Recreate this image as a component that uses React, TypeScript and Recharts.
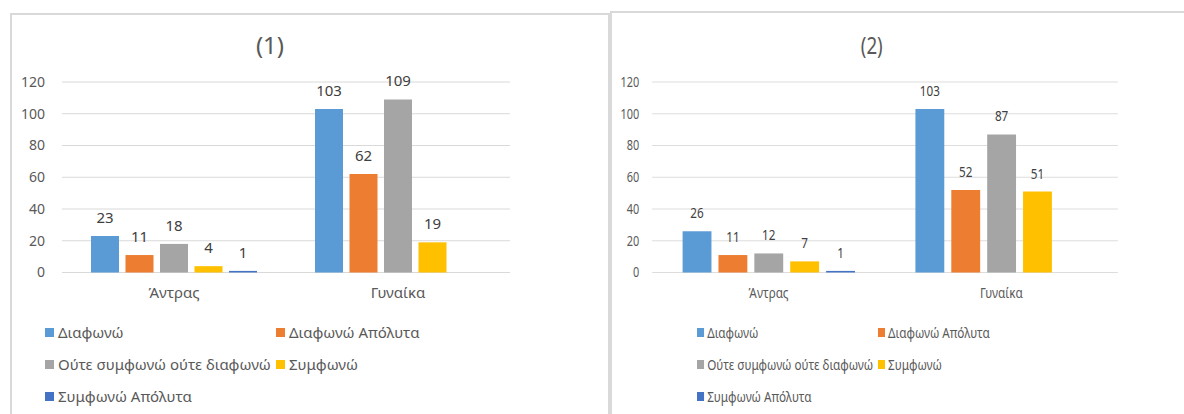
import React from 'react';
import { BarChart, Bar, XAxis, YAxis, CartesianGrid, LabelList, Legend } from 'recharts';

const categories = ['Άντρας', 'Γυναίκα'];
const seriesNames = ['Διαφωνώ', 'Διαφωνώ Απόλυτα', 'Ούτε συμφωνώ ούτε διαφωνώ', 'Συμφωνώ', 'Συμφωνώ Απόλυτα'];
const seriesColors = ['#5B9BD5', '#ED7D31', '#A5A5A5', '#FFC000', '#4472C4'];
const yTicks = [0, 20, 40, 60, 80, 100, 120];

const chart1Title = '(1)';
const chart1Disagree = [23, 103];
const chart1StronglyDisagree = [11, 62];
const chart1Neutral = [18, 109];
const chart1Agree = [4, 19];
const chart1StronglyAgree = [1, null];

const chart2Title = '(2)';
const chart2Disagree = [26, 103];
const chart2StronglyDisagree = [11, 52];
const chart2Neutral = [12, 87];
const chart2Agree = [7, 51];
const chart2StronglyAgree = [1, null];

const keys = ['s0', 's1', 's2', 's3', 's4'];

function buildRows(series: (number | null)[][]) {
  return categories.map((c, i) => {
    const row: any = { name: c };
    series.forEach((s, k) => {
      row[keys[k]] = s[i];
    });
    return row;
  });
}

const data1 = buildRows([chart1Disagree, chart1StronglyDisagree, chart1Neutral, chart1Agree, chart1StronglyAgree]);
const data2 = buildRows([chart2Disagree, chart2StronglyDisagree, chart2Neutral, chart2Agree, chart2StronglyAgree]);

const FONT = '"Noto Sans", sans-serif';

type PanelProps = {
  data: any[];
  title: string;
  titleCenter: number;
  width: number;
  height: number;
  marginRight: number;
  yAxisWidth: number;
  yTickMargin: number;
  barSize: number;
  barGap: number;
  legendLeft: number;
  legendCol: number;
};

function Panel(p: PanelProps) {
  const legendContent = (props: any) => {
    const payload = props.payload || [];
    return (
      <div
        style={{
          display: 'grid',
          gridTemplateColumns: `${p.legendCol}px auto`,
          gridAutoRows: '32px',
          fontFamily: FONT,
          fontSize: 15,
          color: '#595959',
        }}
      >
        {payload.map((e: any) => (
          <div key={e.value} style={{ display: 'flex', alignItems: 'center', whiteSpace: 'nowrap' }}>
            <span style={{ display: 'inline-block', flexShrink: 0, width: 9, height: 9, background: e.color, marginRight: 4 }} />
            <span>{e.value}</span>
          </div>
        ))}
      </div>
    );
  };
  return (
    <div style={{ position: 'relative', width: p.width, height: p.height }}>
      <BarChart
        width={p.width}
        height={p.height}
        data={p.data}
        margin={{ top: 82, right: p.marginRight, bottom: 111.5, left: 0 }}
        barGap={p.barGap}
        barSize={p.barSize}
        style={{ fontFamily: FONT }}
      >
        <CartesianGrid vertical={false} stroke="#D9D9D9" strokeWidth={1} />
        <XAxis
          dataKey="name"
          axisLine={false}
          tickLine={false}
          tickSize={6}
          tickMargin={8.5}
          height={30}
          tick={{ fill: '#595959', fontSize: 15, fontFamily: FONT }}
        />
        <YAxis
          domain={[0, 120]}
          ticks={yTicks}
          interval={0}
          axisLine={false}
          tickLine={false}
          tickSize={6}
          tickMargin={p.yTickMargin}
          width={p.yAxisWidth}
          tick={{ fill: '#595959', fontSize: 14, fontFamily: FONT }}
        />
        <Legend
          layout="horizontal"
          verticalAlign="middle"
          align="center"
          wrapperStyle={{ left: p.legendLeft, top: 316, width: 520 }}
          content={legendContent}
        />
        {keys.map((k, i) => (
          <Bar key={k} dataKey={k} name={seriesNames[i]} fill={seriesColors[i]} isAnimationActive={false}>
            <LabelList
              dataKey={k}
              position="top"
              offset={13}
              fill="#404040"
              fontSize={15}
              fontFamily={FONT}
              formatter={(v: any) => (v == null ? '' : v)}
            />
          </Bar>
        ))}
      </BarChart>
      <div
        style={{
          position: 'absolute',
          left: p.titleCenter - 50,
          width: 100,
          top: 30,
          textAlign: 'center',
          fontFamily: FONT,
          fontSize: 24,
          color: '#595959',
          lineHeight: '30px',
        }}
      >
        {p.title}
      </div>
    </div>
  );
}

const S2 = 0.78;

export default function App() {
  return (
    <div style={{ position: 'absolute', left: 0, top: 0, width: 1184, height: 414, background: '#fff', overflow: 'hidden' }}>
      <div style={{ position: 'absolute', left: 10, top: 13, width: 600, height: 420, border: '2px solid #D9D9D9', boxSizing: 'border-box' }} />
      <div style={{ position: 'absolute', left: 610, top: 11, width: 600, height: 420, border: '2px solid #D9D9D9', boxSizing: 'border-box' }} />
      <div style={{ position: 'absolute', left: 0, top: 0 }}>
        <Panel
          data={data1}
          title={chart1Title}
          titleCenter={270}
          width={610}
          height={414}
          marginRight={100}
          yAxisWidth={62}
          yTickMargin={11}
          barSize={28}
          barGap={6.5}
          legendLeft={45}
          legendCol={231}
        />
      </div>
      <div style={{ position: 'absolute', left: 612, top: 0, transform: `scaleX(${S2})`, transformOrigin: '0 0' }}>
        <Panel
          data={data2}
          title={chart2Title}
          titleCenter={333}
          width={733}
          height={414}
          marginRight={84.5}
          yAxisWidth={51.5}
          yTickMargin={10.5}
          barSize={37}
          barGap={9}
          legendLeft={109}
          legendCol={232}
        />
      </div>
    </div>
  );
}
